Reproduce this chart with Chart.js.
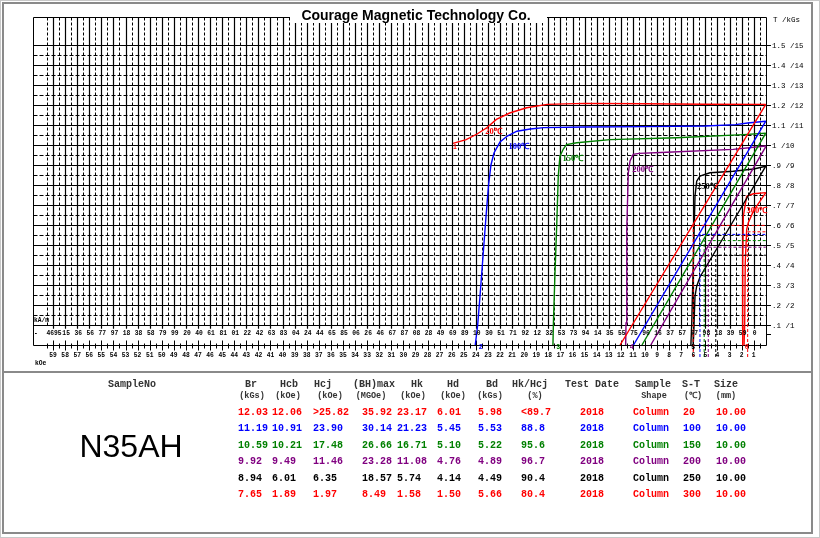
<!DOCTYPE html>
<html><head><meta charset="utf-8">
<script src="https://cdn.jsdelivr.net/npm/chart.js@4.4.0/dist/chart.umd.min.js"></script>
<style>html,body{margin:0;padding:0;background:#fff;}canvas{display:block;}</style>
</head><body>
<canvas id="c" width="820" height="538"></canvas>
<script>
// ---------- DATA ----------
const temperatures = ['20℃','100℃','150℃','200℃','250℃','300℃'];
const curveColors = ['#ff0000','#0000ff','#008000','#800080','#000000','#ff0000'];

// Intrinsic (J-H) curves: [H (kOe), J (kGs)]
const jCurve20  = [[25.9,10.08],[24.8,10.27],[23.9,10.55],[23.1,10.86],[22.3,11.28],[21.2,11.6],[19.8,11.86],[18.1,12.03],[15,12.08],[10,12.06],[5,12.04],[0,12.03]];
const jCurve100 = [[24.05,0],[23.85,1.0],[23.65,2.5],[23.4,4.5],[23.15,6.5],[22.95,8.0],[22.75,9.0],[22.5,9.6],[22.0,10.15],[21.4,10.45],[20.6,10.69],[19.5,10.8],[18.4,10.87],[15,10.9],[10,10.92],[5,10.95],[2.5,11.02],[1.5,11.1],[0,11.19]];
const jCurve150 = [[17.62,0],[17.58,1.1],[17.45,3.6],[17.3,6.1],[17.18,8.44],[17.04,9.44],[16.76,9.8],[16.5,10.02],[15.65,10.11],[12.9,10.27],[7.4,10.36],[1.86,10.52],[0,10.59]];
const jCurve200 = [[11.6,0],[11.57,1.1],[11.51,5.78],[11.38,8.61],[11.24,9.2],[10.97,9.53],[10.5,9.58],[8.2,9.64],[2.7,9.78],[0,9.95]];
const jCurve250 = [[6.2,0],[6.13,1.1],[6.0,4.11],[5.86,7.44],[5.72,8.19],[5.45,8.44],[4.62,8.61],[2.69,8.69],[1.0,8.8],[0,8.94]];
const jCurve300 = [[1.95,0],[1.91,1.1],[1.91,4.11],[1.86,6.44],[1.72,6.94],[1.58,7.44],[1.03,7.56],[0,7.62]];

// Normal (B-H) curves: [H (kOe), B (kGs)]
const bCurve20  = [[0,12.03],[12.06,0]];
const bCurve100 = [[0,11.19],[10.95,0]];
const bCurve150 = [[0,10.59],[10.25,0]];
const bCurve200 = [[0,9.92],[9.52,0]];
const bCurve250 = [[0,8.94],[2.69,6.2],[5.45,3.4],[5.72,2.94],[5.86,2.44],[5.92,1.44],[5.96,0.6],[6.01,0]];
const bCurve300 = [[0,7.62],[1.03,6.69],[1.45,6.11],[1.58,5.78],[1.7,4.11],[1.75,0.94],[1.8,0]];

// Table values
const sampleName = 'N35AH';
const brValues    = ['12.03','11.19','10.59','9.92','8.94','7.65'];
const hcbValues   = ['12.06','10.91','10.21','9.49','6.01','1.89'];
const hcjValues   = ['>25.82','23.90','17.48','11.46','6.35','1.97'];
const bhmaxValues = ['35.92','30.14','26.66','23.28','18.57','8.49'];
const hkValues    = ['23.17','21.23','16.71','11.08','5.74','1.58'];
const hdValues    = [6.01,5.45,5.10,4.76,4.14,1.50];
const bdValues    = [5.98,5.53,5.22,4.89,4.49,5.66];
const ratioValues = ['<89.7','88.8','95.6','96.7','90.4','80.4'];
const testDates   = ['2018','2018','2018','2018','2018','2018'];
const shapes      = ['Column','Column','Column','Column','Column','Column'];
const stValues    = ['20','100','150','200','250','300'];
const sizeValues  = ['10.00','10.00','10.00','10.00','10.00','10.00'];

// Axis tick labels
const kOeTicks = [59,58,57,56,55,54,53,52,51,50,49,48,47,46,45,44,43,42,41,40,39,38,37,36,35,34,33,32,31,30,29,28,27,26,25,24,23,22,21,20,19,18,17,16,15,14,13,12,11,10,9,8,7,6,5,4,3,2,1];
const kAmLabels = ['4695','15','36','56','77','97','18','38','58','79','99','20','40','61','81','01','22','42','63','83','04','24','44','65','85','06','26','46','67','87','08','28','49','69','89','10','30','51','71','92','12','32','53','73','94','14','35','55','75','96','16','37','57','77','98','18','39','59','0'];
const bTicks = [1,2,3,4,5,6,7,8,9,10,11,12,13,14,15];
const teslaLabels = ['.1 /1','.2 /2','.3 /3','.4 /4','.5 /5','.6 /6','.7 /7','.8 /8','.9 /9','1 /10','1.1 /11','1.2 /12','1.3 /13','1.4 /14','1.5 /15'];

// temperature label anchors [H, B] and curve index labels
const tempLabelPos = [[22.55,10.65],[20.43,9.9],[15.96,9.3],[10.2,8.75],[4.83,7.9],[0.73,6.7]];
const curveNoPos = [[25.73,9.9],[23.6,-0.12],[17.18,-0.12],[11.1,-0.12],[6.0,-0.12],[1.58,-0.12]];

// ---------- CHART ----------
const jCurves = [jCurve20,jCurve100,jCurve150,jCurve200,jCurve250,jCurve300];
const bCurves = [bCurve20,bCurve100,bCurve150,bCurve200,bCurve250,bCurve300];
const toXY = a => a.map(p => ({x:p[0], y:p[1]}));

const datasets = [];
temperatures.forEach((t,i) => {
  datasets.push({label:'J '+t, data:toXY(jCurves[i]), borderColor:curveColors[i], borderWidth:1.4, pointRadius:0, showLine:true, fill:false, tension:0, clip:false});
  datasets.push({label:'B '+t, data:toXY(bCurves[i]), borderColor:curveColors[i], borderWidth:1.4, pointRadius:0, showLine:true, fill:false, tension:0, clip:false});
  datasets.push({label:'BHmax '+t, data:[{x:hdValues[i],y:-0.6},{x:hdValues[i],y:bdValues[i]},{x:0,y:bdValues[i]}], borderColor:curveColors[i], borderWidth:1, borderDash:[3,2], pointRadius:0, showLine:true, fill:false, clip:false});
});

const MONO = '"Liberation Mono","DejaVu Sans Mono",monospace';

const bgPlugin = {
  id:'paper',
  beforeDraw(chart){
    const ctx = chart.ctx;
    ctx.save();
    ctx.fillStyle = '#fff';
    ctx.fillRect(0,0,chart.width,chart.height);
    ctx.restore();
  }
};

const gridPlugin = {
  id:'grid',
  beforeDatasetsDraw(chart){
    const {ctx, chartArea:ca, scales:{x,y}} = chart;
    const px = v => Math.round(x.getPixelForValue(v)) + 0.5;
    const py = v => Math.round(y.getPixelForValue(v)) + 0.5;
    ctx.save();
    ctx.strokeStyle = '#000';
    const top = ca.top + 0.5;
    const gBottom = py(bTicks[0]);
    const left = Math.round(ca.left) + 0.5;
    const right = Math.round(ca.right) - 0.5;
    const firstV = px(kOeTicks[0] + 0.5) - 1;
    // vertical lines: integer kOe solid, half kOe dashed
    const vLines = [0].concat(kOeTicks);
    vLines.forEach(k => {
      const xx = px(k);
      if (xx > left + 2 && xx < right - 1) {
        ctx.setLineDash([]); ctx.lineWidth = 1.2;
        ctx.beginPath(); ctx.moveTo(xx, top); ctx.lineTo(xx, gBottom + 3); ctx.stroke();
      }
      const xh = px(k + 0.5);
      if (xh >= firstV && xh < right - 1) {
        ctx.setLineDash([3,2]); ctx.lineWidth = 1;
        ctx.beginPath(); ctx.moveTo(xh, top); ctx.lineTo(xh, gBottom); ctx.stroke();
      }
    });
    // horizontal lines
    bTicks.forEach(b => {
      const yy = py(b);
      ctx.setLineDash([]); ctx.lineWidth = 1.2;
      ctx.beginPath(); ctx.moveTo(left, yy); ctx.lineTo(right, yy); ctx.stroke();
      if (b < bTicks[bTicks.length-1]) {
        const yh = py(b + 0.5);
        ctx.setLineDash([4,2]); ctx.lineWidth = 1;
        ctx.beginPath(); ctx.moveTo(left, yh); ctx.lineTo(right, yh); ctx.stroke();
      }
    });
    ctx.setLineDash([]); ctx.lineWidth = 1;
    // border
    const bot = Math.round(ca.bottom) + 0.5;
    ctx.beginPath();
    ctx.moveTo(left, top); ctx.lineTo(right, top);
    ctx.moveTo(left, top); ctx.lineTo(left, bot);
    ctx.moveTo(right, top); ctx.lineTo(right, bot);
    ctx.moveTo(left, bot); ctx.lineTo(right, bot);
    ctx.stroke();
    // bottom ticks
    vLines.forEach(k => {
      const xx = px(k);
      if (xx > left + 2 && xx < right) {
        ctx.beginPath(); ctx.moveTo(xx, bot - 5); ctx.lineTo(xx, bot + 5); ctx.stroke();
      }
      const xh = px(k + 0.5);
      if (xh >= firstV && xh < right) {
        ctx.beginPath(); ctx.moveTo(xh, bot - 2); ctx.lineTo(xh, bot + 3); ctx.stroke();
      }
    });
    // tick crosses on the B=1 line
    vLines.forEach(k => {
      const xx = px(k);
      if (xx > left + 2 && xx < right) {
        ctx.beginPath(); ctx.moveTo(xx, gBottom - 3); ctx.lineTo(xx, gBottom + 3); ctx.stroke();
      }
    });
    // title box
    ctx.fillStyle = '#fff';
    ctx.fillRect(290, 3, 257, 20);
    ctx.restore();
  }
};

const labelPlugin = {
  id:'labels',
  afterDatasetsDraw(chart){
    const {ctx, chartArea:ca, scales:{x,y}} = chart;
    ctx.save();
    // title
    ctx.fillStyle = '#000';
    ctx.font = 'bold 14px "Liberation Sans", Arial, sans-serif';
    ctx.textAlign = 'center'; ctx.textBaseline = 'alphabetic';
    ctx.fillText('Courage Magnetic Technology Co.', 416, 20);

    // right axis labels
    ctx.font = '7.5px ' + MONO;
    ctx.textAlign = 'left'; ctx.textBaseline = 'middle';
    ctx.strokeStyle = '#000'; ctx.lineWidth = 1;
    bTicks.forEach((b,i) => {
      const yy = Math.round(y.getPixelForValue(b)) + 0.5;
      ctx.beginPath(); ctx.moveTo(ca.right, yy); ctx.lineTo(ca.right + 4, yy); ctx.stroke();
      ctx.fillText(teslaLabels[i], ca.right + 5, yy + 1);
    });
    ctx.beginPath(); ctx.moveTo(ca.right, 334.5); ctx.lineTo(ca.right + 4, 334.5); ctx.stroke();
    ctx.fillText('T /kGs', 773, 20);

    // bottom labels
    ctx.font = 'bold 6.3px ' + MONO;
    ctx.textAlign = 'center';
    kOeTicks.forEach((k,i) => {
      const xx = x.getPixelForValue(k);
      ctx.fillText(String(k), xx, 355);
      ctx.fillText(kAmLabels[i], xx + 1, 333);
    });
    ctx.textAlign = 'left';
    ctx.fillText('kA/m', 34, 320);
    ctx.fillText('kOe', 35, 363);
    ctx.fillText('-', 34, 333);

    // temperature labels
    ctx.font = 'bold 8.5px "Liberation Serif", serif';
    ctx.textAlign = 'center';
    temperatures.forEach((t,i) => {
      ctx.fillStyle = curveColors[i];
      ctx.fillText(t, x.getPixelForValue(tempLabelPos[i][0]), y.getPixelForValue(tempLabelPos[i][1]));
    });
    ctx.font = 'bold 6.5px ' + MONO;
    curveNoPos.forEach((p,i) => {
      ctx.fillStyle = curveColors[i];
      ctx.fillText(String(i+1), x.getPixelForValue(p[0]), y.getPixelForValue(p[1]));
    });

    // frame
    ctx.strokeStyle = '#8a8a8a'; ctx.lineWidth = 2;
    ctx.strokeRect(3, 3, 809, 530);
    ctx.beginPath(); ctx.moveTo(3, 372); ctx.lineTo(812, 372); ctx.stroke();
    ctx.strokeStyle = '#c8c8c8'; ctx.lineWidth = 1;
    ctx.strokeRect(0.5, 0.5, 819, 537);

    // table
    ctx.fillStyle = '#333';
    ctx.textBaseline = 'middle';
    ctx.font = 'bold 10px ' + MONO;
    ctx.textAlign = 'center';
    const hdr = [['SampleNo',132],['Br',251],['Hcb',289],['Hcj',323],['(BH)max',374],['Hk',417],['Hd',453],['Bd',492],['Hk/Hcj',530],['Test Date',592],['Sample',653],['S-T',691],['Size',726]];
    hdr.forEach(h => ctx.fillText(h[0], h[1], 384));
    ctx.font = 'bold 8.5px ' + MONO;
    const units = [['(kGs)',252],['(kOe)',288],['(kOe)',330],['(MGOe)',371],['(kOe)',413],['(kOe)',453],['(kGs)',490],['(%)',535],['Shape',654],['(℃)',693],['(mm)',726]];
    units.forEach(h => ctx.fillText(h[0], h[1], 396));

    ctx.fillStyle = '#000';
    ctx.font = '32px "Liberation Sans", Arial, sans-serif';
    ctx.fillText(sampleName, 131, 448);

    ctx.font = 'bold 10px ' + MONO;
    ctx.textAlign = 'left';
    const cols = [[brValues,238],[hcbValues,272],[hcjValues,313],[bhmaxValues,362],[hkValues,397],[hdValues.map(v=>v.toFixed(2)),437],[bdValues.map(v=>v.toFixed(2)),478],[ratioValues,521],[testDates,580],[shapes,633],[stValues,683],[sizeValues,716]];
    for (let r = 0; r < 6; r++) {
      ctx.fillStyle = curveColors[r];
      const yy = 412 + r * 16.5;
      cols.forEach(c => ctx.fillText(c[0][r], c[1], yy));
    }
    ctx.restore();
  }
};

new Chart(document.getElementById('c'), {
  type:'scatter',
  data:{datasets},
  options:{
    responsive:false,
    animation:false,
    devicePixelRatio:1,
    layout:{padding:{left:33, top:17, right:53, bottom:193}},
    plugins:{legend:{display:false}, tooltip:{enabled:false}, title:{display:false}},
    scales:{
      x:{type:'linear', reverse:true, min:-0.1, max:60.66, display:false},
      y:{type:'linear', min:0, max:16.4, display:false}
    }
  },
  plugins:[bgPlugin, gridPlugin, labelPlugin]
});
</script>
</body></html>
